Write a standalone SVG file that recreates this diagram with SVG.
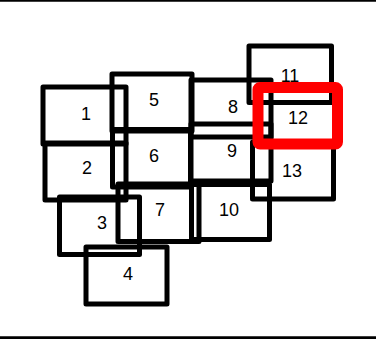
<svg xmlns="http://www.w3.org/2000/svg" width="376" height="339" viewBox="0 0 376 339">
<style>
.n rect{fill:none;stroke:#000;stroke-width:5;stroke-linejoin:round}
.n text{font-family:"Liberation Sans",Arial,sans-serif;font-size:18px;fill:#000;text-anchor:middle}
#n12 rect{stroke:#f00;stroke-width:11}
.frame{stroke:#000;fill:none}
</style>
<rect width="376" height="339" fill="#fff"/>
<line class="frame" x1="0" y1="0.8" x2="376" y2="0.8" stroke-width="2"/>
<line class="frame" x1="0" y1="337.6" x2="376" y2="337.6" stroke-width="2.6"/>
<g id="connectors"></g>
<g id="n1" class="n"><rect x="43" y="87" width="83" height="57"/><text x="86" y="119.5">1</text></g>
<g id="n2" class="n"><rect x="45" y="143" width="81" height="57"/><text x="87" y="173.5">2</text></g>
<g id="n3" class="n"><rect x="59.5" y="197" width="80" height="57.5"/><text x="102" y="228.5">3</text></g>
<g id="n4" class="n"><rect x="86" y="247" width="81" height="57"/><text x="128" y="279.5">4</text></g>
<g id="n5" class="n"><rect x="112" y="74" width="80" height="57"/><text x="154" y="105.5">5</text></g>
<g id="n6" class="n"><rect x="112.5" y="129.5" width="78" height="57.5"/><text x="154" y="161.5">6</text></g>
<g id="n7" class="n"><rect x="118" y="184" width="81" height="57.5"/><text x="160" y="215.5">7</text></g>
<g id="n8" class="n"><rect x="191" y="80" width="80" height="57"/><text x="233" y="112.5">8</text></g>
<g id="n9" class="n"><rect x="191" y="124" width="80" height="57"/><text x="232" y="156.5">9</text></g>
<g id="n10" class="n"><rect x="191.5" y="184.5" width="78" height="55"/><text x="229" y="215.5">10</text></g>
<g id="n11" class="n"><rect x="249" y="46" width="82.5" height="56.5"/><text x="290" y="81.5">11</text></g>
<g id="n13" class="n"><rect x="252.5" y="142" width="81" height="57"/><text x="292" y="176.5">13</text></g>
<g id="n12" class="n"><rect x="258" y="87.5" width="79.5" height="56.5" rx="2"/><text x="298" y="123.5">12</text></g>
</svg>
